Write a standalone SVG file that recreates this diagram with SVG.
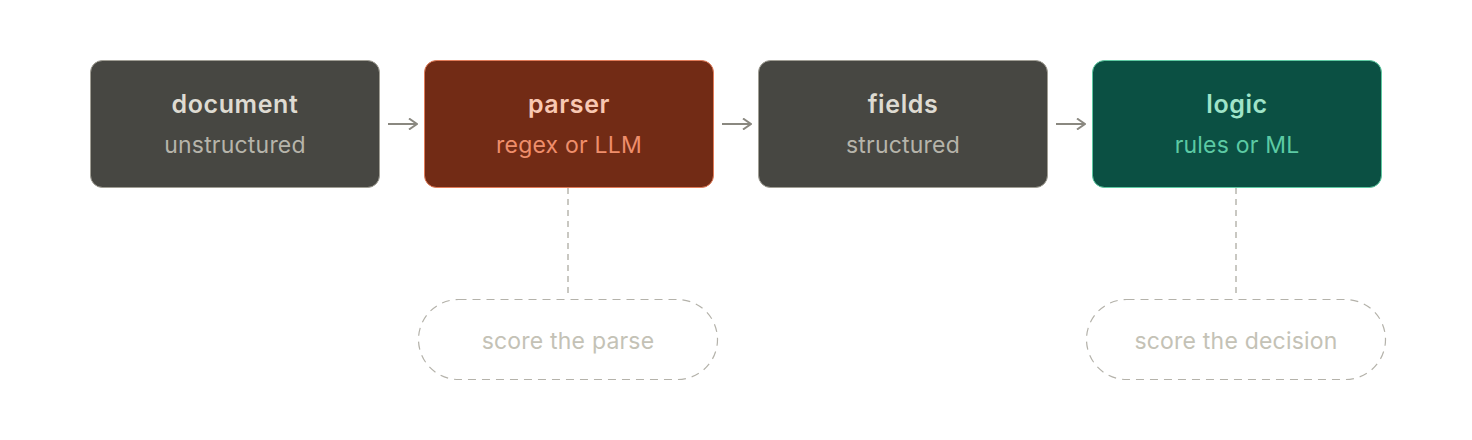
<svg xmlns="http://www.w3.org/2000/svg" width="1472" height="440" viewBox="0 0 1472 440">
<style>
.box{stroke-width:1}
.gray{fill:#474742;stroke:#a09e94}
.red{fill:#722b15;stroke:#e27b58}
.green{fill:#0b5043;stroke:#5ecaa2}
.t{font-family:Inter,"Liberation Sans",sans-serif;text-anchor:middle}
.title{font-size:25px;font-weight:600;letter-spacing:0.6px}
.sub{font-size:23px;letter-spacing:0.2px}
.pill{fill:none;stroke:#b4b2aa;stroke-width:1.2;stroke-dasharray:8 6}
.link{stroke:#b8b6ae;stroke-width:1.5;stroke-dasharray:6 5;fill:none}
.arrow{stroke:#8a8880;stroke-width:2;fill:none}
</style>
<defs>
<marker id="ah" viewBox="0 0 12 12" refX="11" refY="6" markerWidth="12" markerHeight="12" markerUnits="userSpaceOnUse" orient="auto">
<path d="M3,0.5 L11,6 L3,11.5" fill="none" stroke="#8a8880" stroke-width="2"/>
</marker>
</defs>
<rect width="1472" height="440" fill="#ffffff"/>
<g id="connectors">
<line class="arrow" x1="388" y1="124" x2="417" y2="124" marker-end="url(#ah)"/>
<line class="arrow" x1="722" y1="124" x2="751" y2="124" marker-end="url(#ah)"/>
<line class="arrow" x1="1056" y1="124" x2="1085" y2="124" marker-end="url(#ah)"/>
<line class="link" x1="568" y1="188" x2="568" y2="298"/>
<line class="link" x1="1236" y1="188" x2="1236" y2="298"/>
</g>
<g id="node-document">
<rect class="box gray" x="90.5" y="60.5" width="289" height="127" rx="12"/>
<text class="t title" x="235" y="113" fill="#dedbd2">document</text>
<text class="t sub" x="235" y="153" fill="#b6b4aa">unstructured</text>
</g>
<g id="node-parser">
<rect class="box red" x="424.5" y="60.5" width="289" height="127" rx="12"/>
<text class="t title" x="569" y="113" fill="#f8c8b2">parser</text>
<text class="t sub" x="569" y="153" fill="#ef8e6b">regex or LLM</text>
</g>
<g id="node-fields">
<rect class="box gray" x="758.5" y="60.5" width="289" height="127" rx="12"/>
<text class="t title" x="903" y="113" fill="#dedbd2">fields</text>
<text class="t sub" x="903" y="153" fill="#b6b4aa">structured</text>
</g>
<g id="node-logic">
<rect class="box green" x="1092.5" y="60.5" width="289" height="127" rx="12"/>
<text class="t title" x="1237" y="113" fill="#a0e4c9">logic</text>
<text class="t sub" x="1237" y="153" fill="#5ccaa4">rules or ML</text>
</g>
<g id="node-score-parse">
<rect class="pill" x="418.5" y="299.5" width="299" height="80" rx="40"/>
<text class="t sub" x="568" y="349" fill="#c4c2b6">score the parse</text>
</g>
<g id="node-score-decision">
<rect class="pill" x="1086.5" y="299.5" width="299" height="80" rx="40"/>
<text class="t sub" x="1236" y="349" fill="#c4c2b6">score the decision</text>
</g>
</svg>
